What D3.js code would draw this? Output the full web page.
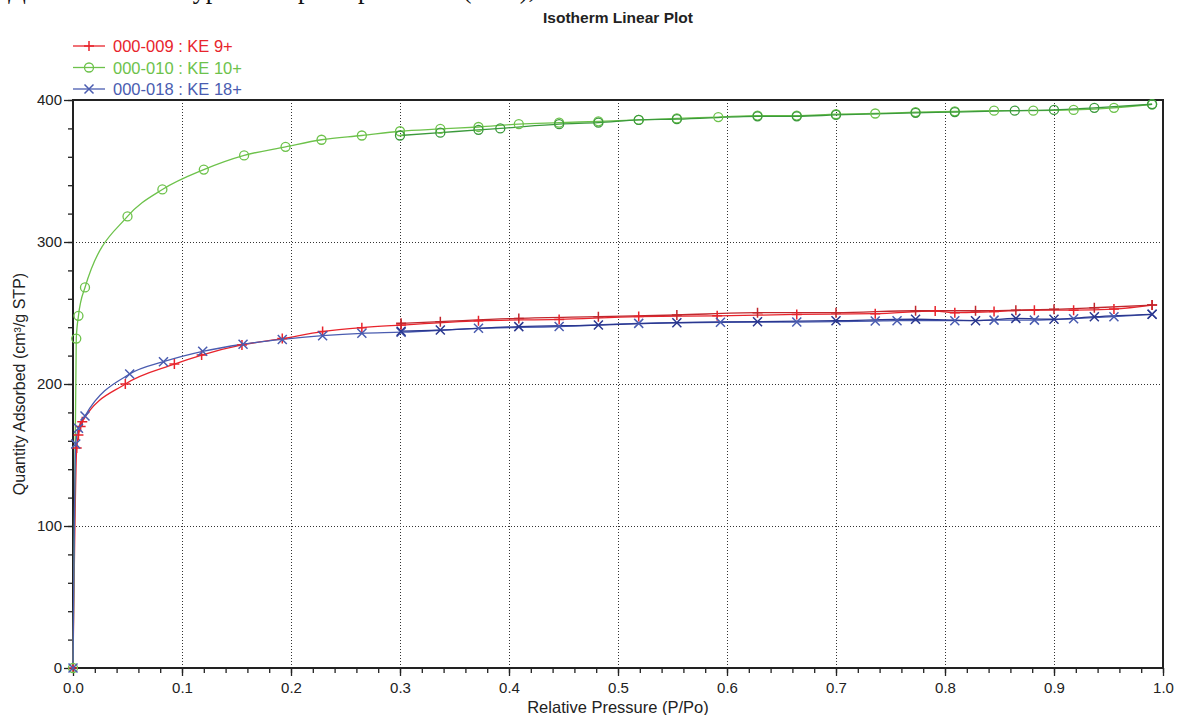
<!DOCTYPE html>
<html>
<head>
<meta charset="utf-8">
<script src="https://cdn.jsdelivr.net/npm/d3@7"></script>
<style>
  body { margin: 0; background: #fff; }
  svg { display: block; font-family: "Liberation Sans", Arial, sans-serif; }
  .axis path, .axis line { stroke: #222; }
  .axis text { fill: #222; font-size: 14px; }
  .grid line { stroke: #333; stroke-dasharray: 1,2; }
</style>
</head>
<body>
<div id="chart"></div>
<script>
// Series: adsorption (light) and desorption (dark) branches
// ==============================
var seriesNames = ["000-009 : KE 9+", "000-010 : KE 10+", "000-018 : KE 18+"];

var redAdsP = [0, 0.0034, 0.005, 0.007, 0.0085, 0.048, 0.093, 0.118, 0.155, 0.192, 0.229, 0.265, 0.301, 0.372, 0.446, 0.519, 0.591, 0.664, 0.736, 0.791, 0.809, 0.845, 0.882, 0.918, 0.955, 0.99];
var redAdsQ = [0, 155, 164, 170, 173.5, 200, 214, 220.4, 227.5, 232, 236.9, 239.7, 241.5, 244.5, 245.5, 247.5, 248, 249, 249.5, 251.4, 250.2, 251, 252, 252, 252.8, 255.6];
var redDesP = [0.99, 0.937, 0.90, 0.865, 0.828, 0.773, 0.70, 0.628, 0.554, 0.482, 0.409, 0.337, 0.301];
var redDesQ = [255.6, 253.7, 252.6, 252, 251.6, 251.6, 250.2, 250.2, 248.6, 247.4, 246.2, 243.9, 242.7];

var greenAdsP = [0, 0.003, 0.005, 0.011, 0.05, 0.082, 0.12, 0.157, 0.195, 0.228, 0.265, 0.30, 0.337, 0.372, 0.409, 0.446, 0.482, 0.519, 0.554, 0.592, 0.628, 0.664, 0.70, 0.736, 0.773, 0.809, 0.845, 0.881, 0.918, 0.955, 0.99];
var greenAdsQ = [0, 232, 248, 268, 318, 337, 351, 361, 367, 372, 375, 378, 379.6, 381, 383, 384, 385, 386, 387, 388, 389, 389, 390, 390.5, 391.5, 392, 392.5, 392.5, 393, 394.5, 397];
var greenDesP = [0.99, 0.937, 0.90, 0.864, 0.809, 0.773, 0.70, 0.664, 0.628, 0.554, 0.519, 0.482, 0.446, 0.392, 0.372, 0.337, 0.30];
var greenDesQ = [397, 394.5, 393, 392.5, 391.5, 391, 389.5, 388.5, 388.5, 386.5, 386, 384, 383, 380, 379, 377, 375];

var blueAdsP = [0, 0.0025, 0.005, 0.011, 0.052, 0.083, 0.119, 0.156, 0.192, 0.229, 0.265, 0.301, 0.372, 0.446, 0.519, 0.594, 0.664, 0.736, 0.756, 0.809, 0.845, 0.882, 0.918, 0.955, 0.99];
var blueAdsQ = [0, 157.7, 168.8, 177.5, 207, 215.7, 223, 228, 231.4, 234, 235.7, 236.5, 239.2, 240.5, 242.7, 243.5, 243.6, 244.3, 244.6, 244.6, 245, 245, 246, 247.4, 249.1];
var blueDesP = [0.99, 0.937, 0.90, 0.865, 0.828, 0.773, 0.70, 0.628, 0.554, 0.482, 0.409, 0.337, 0.301];
var blueDesQ = [249.1, 247.4, 245.6, 246.2, 244.6, 245.6, 244.6, 243.9, 243.2, 241.5, 240.4, 238, 237.2];

var xMajorTicks = [0, 0.1, 0.2, 0.3, 0.4, 0.5, 0.6, 0.7, 0.8, 0.9, 1.0];
var yMajorTicks = [0, 100, 200, 300, 400];

// Define SVG Area
// ==============================
var svgWidth = 1177;
var svgHeight = 715;
var margin = { top: 100, right: 14, bottom: 47, left: 73 };
var width = svgWidth - margin.left - margin.right;
var height = svgHeight - margin.top - margin.bottom;

var svg = d3.select("#chart")
  .append("svg")
  .attr("width", svgWidth)
  .attr("height", svgHeight);

// clipped line of document text above the chart (only its lower edge shows)
svg.append("text")
  .attr("x", 8)
  .attr("y", -2)
  .attr("textLength", 527)
  .attr("lengthAdjust", "spacingAndGlyphs")
  .style("font-family", "'Liberation Serif', 'Times New Roman', serif")
  .style("font-size", "28px")
  .attr("fill", "#111")
  .text("Данные по текстурным характеристикам(БЭТ),");

var chartGroup = svg.append("g")
  .attr("transform", `translate(${margin.left}, ${margin.top})`);

// Scales
// ==============================
var xScale = d3.scaleLinear().domain([0, 1]).range([0, width]);
var yScale = d3.scaleLinear().domain([0, 400]).range([height, 0]);

// Grid lines
// ==============================
chartGroup.append("g").attr("class", "grid")
  .selectAll("line")
  .data(xMajorTicks.slice(1, -1))
  .join("line")
  .attr("x1", d => xScale(d) + 0.5).attr("x2", d => xScale(d) + 0.5)
  .attr("y1", 0).attr("y2", height);

chartGroup.append("g").attr("class", "grid")
  .selectAll("line")
  .data(yMajorTicks.slice(1, -1))
  .join("line")
  .attr("y1", d => yScale(d) + 0.5).attr("y2", d => yScale(d) + 0.5)
  .attr("x1", 0).attr("x2", width);

// Axes
// ==============================
var xMinor = d3.axisBottom(xScale).tickValues(d3.range(0, 51).map(i => i / 50))
  .tickSize(5).tickSizeOuter(0).tickFormat("");
var xMajor = d3.axisBottom(xScale).tickValues(xMajorTicks)
  .tickSize(8).tickSizeOuter(0).tickPadding(6).tickFormat(d3.format(".1f"));
var yMinor = d3.axisLeft(yScale).tickValues(d3.range(0, 21).map(i => i * 20))
  .tickSize(5).tickSizeOuter(0).tickFormat("");
var yMajor = d3.axisLeft(yScale).tickValues(yMajorTicks)
  .tickSize(9).tickSizeOuter(0).tickPadding(2);

[xMinor, xMajor].forEach(function(ax) {
  chartGroup.append("g").attr("class", "axis")
    .attr("transform", `translate(0, ${height})`)
    .call(ax);
});
[yMinor, yMajor].forEach(function(ax) {
  chartGroup.append("g").attr("class", "axis").call(ax);
});
chartGroup.selectAll(".axis .tick line").attr("stroke-width", 1.3);
chartGroup.selectAll(".axis text").style("font-family", "'Liberation Sans Narrow', 'Liberation Sans', Arial, sans-serif")
  .style("font-size", "15px");

// frame
chartGroup.append("path")
  .attr("d", `M0,${height}V0H${width}V${height}H0`)
  .attr("fill", "none").attr("stroke", "#222").attr("stroke-width", 2);

// Series drawing
// ==============================
var markers = {
  plus: "M-5,0H5M0,-5V5",
  cross: "M-4.5,-4.5L4.5,4.5M-4.5,4.5L4.5,-4.5"
};

var series = [
  { name: seriesNames[0], light: "#e8242c", dark: "#c1272d", marker: "plus",
    ads: d3.zip(redAdsP, redAdsQ), des: d3.zip(redDesP, redDesQ) },
  { name: seriesNames[1], light: "#6dc24b", dark: "#3b9a3c", marker: "circle",
    ads: d3.zip(greenAdsP, greenAdsQ), des: d3.zip(greenDesP, greenDesQ) },
  { name: seriesNames[2], light: "#4a5cb0", dark: "#2a378f", marker: "cross",
    ads: d3.zip(blueAdsP, blueAdsQ), des: d3.zip(blueDesP, blueDesQ) }
];

var line = d3.line()
  .x(d => xScale(d[0]))
  .y(d => yScale(d[1]))
  .curve(d3.curveMonotoneX);

function drawMarker(g, kind, color) {
  if (kind === "circle") {
    g.append("circle").attr("r", 4.5)
      .attr("fill", "none").attr("stroke", color).attr("stroke-width", 1.3);
  } else {
    g.append("path").attr("d", markers[kind])
      .attr("fill", "none").attr("stroke", color).attr("stroke-width", 1.5);
  }
}

series.forEach(function(s) {
  [["ads", s.light], ["des", s.dark]].forEach(function(branch) {
    var pts = s[branch[0]].slice().sort((a, b) => a[0] - b[0]);
    chartGroup.append("path")
      .datum(pts)
      .attr("d", line)
      .attr("fill", "none")
      .attr("stroke", branch[1])
      .attr("stroke-width", 1.3);
  });
});

series.forEach(function(s) {
  [["ads", s.light], ["des", s.dark]].forEach(function(branch) {
    chartGroup.selectAll(null)
      .data(s[branch[0]])
      .join("g")
      .attr("transform", d => `translate(${xScale(d[0])}, ${yScale(d[1])})`)
      .each(function() { drawMarker(d3.select(this), s.marker, branch[1]); });
  });
});

// Legend
// ==============================
var legend = svg.append("g").attr("transform", "translate(73, 46)");
series.forEach(function(s, i) {
  var row = legend.append("g").attr("transform", `translate(0, ${i * 21.5})`);
  row.append("line").attr("x1", 0).attr("x2", 32)
    .attr("stroke", s.light).attr("stroke-width", 1.3);
  drawMarker(row.append("g").attr("transform", "translate(16,0)"), s.marker, s.light);
  row.append("text")
    .attr("x", 40).attr("y", 6)
    .attr("fill", s.light)
    .style("font-size", "16.5px")
    .text(s.name);
});

// Titles
// ==============================
svg.append("text")
  .attr("x", margin.left + width / 2)
  .attr("y", 23)
  .attr("text-anchor", "middle")
  .style("font-size", "15.5px")
  .style("font-weight", "bold")
  .attr("fill", "#222")
  .text("Isotherm Linear Plot");

svg.append("text")
  .attr("x", margin.left + width / 2)
  .attr("y", 713)
  .attr("text-anchor", "middle")
  .style("font-family", "'Liberation Sans Narrow', 'Liberation Sans', Arial, sans-serif")
  .style("font-size", "16.5px")
  .attr("fill", "#222")
  .text("Relative Pressure (P/Po)");

svg.append("text")
  .attr("transform", "rotate(-90)")
  .attr("x", -(margin.top + height / 2))
  .attr("y", 25)
  .attr("text-anchor", "middle")
  .style("font-size", "16px")
  .attr("fill", "#222")
  .text("Quantity Adsorbed (cm³/g STP)");
</script>
</body>
</html>
